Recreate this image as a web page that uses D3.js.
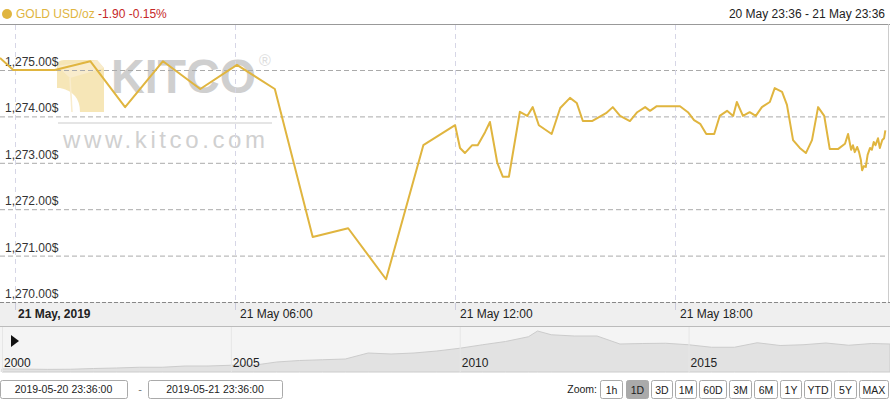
<!DOCTYPE html>
<html><head><meta charset="utf-8">
<script src="https://cdn.jsdelivr.net/npm/d3@7/dist/d3.min.js"></script>
<style>body{margin:0;background:#fff;font-family:"Liberation Sans",Arial,sans-serif}</style>
</head><body><svg id="c" width="890" height="400"></svg>
<script>
const times = ["20 23:27","20 23:49","21 00:57","21 01:55","21 02:52","21 03:54","21 04:55","21 05:55","21 06:57","21 07:59","21 08:57","21 09:59","21 11:00","21 11:52","21 12:00","21 12:08","21 12:20","21 12:29","21 12:41","21 12:49","21 13:01","21 13:10","21 13:20","21 13:38","21 13:50","21 13:59","21 14:09","21 14:30","21 14:44","21 15:00","21 15:11","21 15:21","21 15:36","21 15:59","21 16:10","21 16:22","21 16:38","21 16:50","21 17:03","21 17:11","21 17:22","21 18:00","21 18:13","21 18:23","21 18:33","21 18:43","21 18:56","21 19:05","21 19:17","21 19:27","21 19:33","21 19:43","21 19:54","21 20:04","21 20:14","21 20:27","21 20:35","21 20:47","21 20:55","21 21:05","21 21:16","21 21:26","21 21:36","21 21:46","21 21:56","21 22:05","21 22:19","21 22:30","21 22:35","21 22:40","21 22:43","21 22:46","21 22:50","21 22:53","21 22:56","21 22:58","21 23:01","21 23:04","21 23:07","21 23:11","21 23:14","21 23:17","21 23:20","21 23:24","21 23:27","21 23:31","21 23:34","21 23:36"];
const prices = [1275.26,1275.00,1275.00,1275.19,1274.20,1275.19,1274.59,1275.11,1274.59,1271.40,1271.59,1270.49,1273.38,1273.81,1273.32,1273.21,1273.38,1273.38,1273.66,1273.88,1273.00,1272.70,1272.70,1274.10,1274.01,1274.20,1273.81,1273.62,1274.18,1274.40,1274.29,1273.90,1273.90,1274.07,1274.20,1274.01,1273.90,1274.09,1274.20,1274.12,1274.22,1274.22,1274.09,1273.92,1273.84,1273.62,1273.62,1274.01,1274.12,1274.01,1274.31,1274.01,1274.09,1274.01,1274.20,1274.31,1274.61,1274.53,1274.25,1273.49,1273.32,1273.21,1273.49,1274.20,1274.01,1273.30,1273.30,1273.41,1273.62,1273.28,1273.38,1273.23,1273.34,1273.23,1273.06,1272.84,1272.93,1272.91,1273.17,1273.32,1273.28,1273.45,1273.38,1273.53,1273.32,1273.49,1273.53,1273.70];
const yTicks = [1270,1271,1272,1273,1274,1275];
const xTickLabels = ["21 May, 2019","21 May 06:00","21 May 12:00","21 May 18:00"];
const xTickHours = [0,6,12,18];
const navYears = [2000,2000.5,2001,2001.5,2002,2002.5,2003,2003.5,2004,2004.5,2005,2005.5,2006,2006.5,2007,2007.5,2008,2008.5,2009,2009.5,2010,2010.5,2011,2011.5,2011.7,2012,2012.5,2013,2013.5,2014,2014.5,2015,2015.5,2016,2016.5,2017,2017.5,2018,2018.5,2019,2019.4];
const navPrices = [285,275,265,270,300,320,350,350,400,400,430,430,560,620,650,680,920,880,920,1000,1110,1250,1380,1570,1800,1650,1600,1600,1280,1300,1310,1250,1150,1150,1330,1220,1250,1320,1230,1300,1280];
const navLabels = ["2000","2005","2010","2015"];
const zoomBtns = ["1h","1D","3D","1M","60D","3M","6M","1Y","YTD","5Y","MAX"];

const svg = d3.select("#c");
const gold = "#e0b53f";
const base = new Date(2019,4,21,0,0);
const parse = s => { const [d,t]=s.split(" "); const [h,m]=t.split(":").map(Number); return new Date(2019,4,+d,h,m); };
const x = d3.scaleTime().domain([base, new Date(2019,4,22,0,0)]).range([20,900]);
const y = d3.scaleLinear().domain([1270,1275]).range([302,70]);

// header
svg.append("circle").attr("cx",7).attr("cy",14).attr("r",5).attr("fill",gold);
const ht = svg.append("text").attr("x",16).attr("y",18).attr("font-size",12);
ht.append("tspan").attr("fill",gold).text("GOLD USD/oz ");
ht.append("tspan").attr("fill","#c62828").text("-1.90  -0.15%");
svg.append("text").attr("x",885).attr("y",18).attr("text-anchor","end").attr("font-size",12).attr("fill","#222").text("20 May 23:36 - 21 May 23:36");

// frame
svg.append("line").attr("x1",0).attr("x2",890).attr("y1",24.5).attr("y2",24.5).attr("stroke","#999");
svg.append("line").attr("x1",888.5).attr("x2",888.5).attr("y1",24).attr("y2",302).attr("stroke","#ccc");

// watermark
const wm = svg.append("g");
wm.append("path").attr("d","M57,66 Q57,60 64,60 L97,60 L104,68 L104,112 L80,112 Q80,92 60,88 L57,88Z").attr("fill","#f5e2aa").attr("opacity",0.85);
wm.append("path").attr("d","M57,66 L97,60 L104,68 L70,78Z").attr("fill","#f9eccc");
wm.append("line").attr("x1",70).attr("x2",72).attr("y1",78).attr("y2",112).attr("stroke","#f9eccc").attr("stroke-width",1.5);
wm.append("text").attr("x",111).attr("y",93).attr("font-size",48).attr("font-weight","bold").attr("fill","#cfcfcf").attr("textLength",145).attr("lengthAdjust","spacingAndGlyphs").text("KITCO");
wm.append("text").attr("x",259).attr("y",66).attr("font-size",16).attr("fill","#ddd").text("®");
wm.append("line").attr("x1",58).attr("x2",272).attr("y1",123).attr("y2",123).attr("stroke","#ddd").attr("stroke-width",1.5);
wm.append("text").attr("x",63).attr("y",148).attr("font-size",24).attr("fill","#d0d0d0").attr("textLength",202).text("www.kitco.com");

// grid
svg.append("g").selectAll("line").data(yTicks).join("line")
  .attr("x1",0).attr("x2",888).attr("y1",d=>y(d)+.5).attr("y2",d=>y(d)+.5)
  .attr("stroke","#aaa").attr("stroke-dasharray","5,3");
svg.append("g").selectAll("line").data(xTickHours).join("line")
  .attr("x1",d=>x(d3.timeHour.offset(base,d))-4.5).attr("x2",d=>x(d3.timeHour.offset(base,d))-4.5)
  .attr("y1",25).attr("y2",302).attr("stroke","#d6d6e6").attr("stroke-dasharray","5,4");
svg.append("g").selectAll("text").data(yTicks).join("text")
  .attr("x",5).attr("y",d=>y(d)-4).attr("font-size",12).attr("fill","#333")
  .text(d=>d3.format(",.2f")(d)+"$");

// line
const pts = times.map((t,i)=>({t:parse(t),v:prices[i]}));
svg.append("path").datum(pts).attr("fill","none").attr("stroke",gold).attr("stroke-width",2).attr("stroke-linejoin","round")
  .attr("d",d3.line().x(d=>Math.max(0,x(d.t))).y(d=>y(d.v)));

// x axis band
svg.append("rect").attr("x",0).attr("y",302).attr("width",890).attr("height",24).attr("fill","#efefef");
svg.append("line").attr("x1",0).attr("x2",890).attr("y1",302.5).attr("y2",302.5).attr("stroke","#888").attr("stroke-dasharray","4,2");
svg.selectAll(".xl").data(xTickHours).join("text")
  .attr("x",(d,i)=>x(d3.timeHour.offset(base,d))-(i?0:2)).attr("y",318).attr("font-size",12)
  .attr("font-weight",(d,i)=>i?"normal":"bold").attr("fill","#222").text((d,i)=>xTickLabels[i]);
svg.selectAll(".xt").data(xTickHours).join("line")
  .attr("x1",d=>x(d3.timeHour.offset(base,d))-4.5).attr("x2",d=>x(d3.timeHour.offset(base,d))-4.5)
  .attr("y1",303).attr("y2",310).attr("stroke","#ccd");

// navigator
const nx = d3.scaleLinear().domain([2000,2019.4]).range([2,890]);
const ny = d3.scaleLinear().domain([200,1800]).range([371,331]);
svg.append("rect").attr("x",0).attr("y",326).attr("width",890).attr("height",46).attr("fill","#f4f4f4");
svg.append("line").attr("x1",0).attr("x2",890).attr("y1",326.5).attr("y2",326.5).attr("stroke","#bbb");
svg.append("path").datum(navYears.map((yr,i)=>[yr,navPrices[i]])).attr("fill","#e2e2e2").attr("stroke","#ccc")
  .attr("d",d3.area().x(d=>nx(d[0])).y0(372).y1(d=>ny(d[1])));
svg.selectAll(".nl").data(navLabels).join("line").attr("x1",d=>nx(+d)+0.5).attr("x2",d=>nx(+d)+0.5)
  .attr("y1",327).attr("y2",372).attr("stroke","#e6e6e6");
svg.selectAll(".nt").data(navLabels).join("text").attr("x",d=>nx(+d)+2).attr("y",367).attr("font-size",12).attr("fill","#222").text(d=>d);
svg.append("path").attr("d","M11,335 L19,341 L11,347Z").attr("fill","#111");

// bottom controls
const inputs = [["2019-05-20 23:36:00",0,127],["2019-05-21 23:36:00",148,134]];
inputs.forEach(([t,x0,w])=>{
  svg.append("rect").attr("x",x0+.5).attr("y",380.5).attr("width",w).attr("height",18).attr("rx",2).attr("fill","#fff").attr("stroke","#aaa");
  svg.append("text").attr("x",x0+w/2).attr("y",393).attr("text-anchor","middle").attr("font-size",10.5).attr("fill","#222").text(t);
});
svg.append("text").attr("x",140).attr("y",393).attr("text-anchor","middle").attr("font-size",11).attr("fill","#777").text("-");
svg.append("text").attr("x",597).attr("y",393).attr("text-anchor","end").attr("font-size",10.5).attr("fill","#222").text("Zoom:");
const bx = [600,626,651,675,699,729,754,780,804,834,859];
const bw = [22,22,21,21,27,22,23,21,27,22,29];
zoomBtns.forEach((b,i)=>{
  svg.append("rect").attr("x",bx[i]+.5).attr("y",380.5).attr("width",bw[i]).attr("height",18).attr("rx",2)
    .attr("fill",b==="1D"?"#aaa":"#fff").attr("stroke","#aaa");
  svg.append("text").attr("x",bx[i]+bw[i]/2+.5).attr("y",393.5).attr("text-anchor","middle").attr("font-size",10.5).attr("fill","#222").text(b);
});
</script></body></html>
